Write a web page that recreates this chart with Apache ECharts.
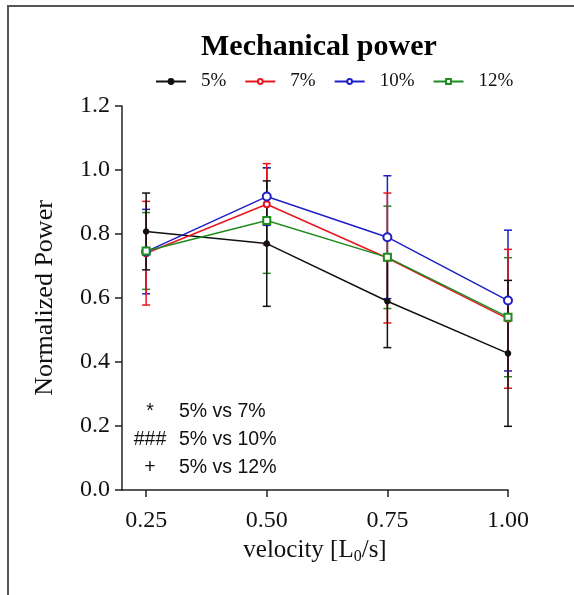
<!DOCTYPE html>
<html>
<head>
<meta charset="utf-8">
<script src="https://cdn.jsdelivr.net/npm/echarts@6/dist/echarts.min.js"></script>
<style>
  html, body { margin: 0; padding: 0; background: #fff; }
  #chart { width: 574px; height: 595px; }
</style>
</head>
<body>
<div id="chart"></div>
<script>
const velocities = [0.25, 0.5, 0.75, 1.0]
const seriesNames = ['5%', '7%', '10%', '12%']
const colors = ['#111111', '#e8161e', '#1f1fc4', '#1e8c1e']
const symbols = ['circle', 'emptyCircle', 'emptyCircle', 'emptyRect']
const symbolSizes = [5, 6, 8, 7]

// mean values per group
const mean5 = [0.808, 0.770, 0.590, 0.427]
const mean7 = [0.740, 0.893, 0.725, 0.535]
const mean10 = [0.745, 0.917, 0.790, 0.592]
const mean12 = [0.747, 0.842, 0.727, 0.540]

// error (SD) per group
const err5 = [0.120, 0.196, 0.145, 0.228]
const err7 = [0.162, 0.127, 0.203, 0.217]
const err10 = [0.132, 0.090, 0.192, 0.220]
const err12 = [0.120, 0.165, 0.160, 0.186]

const yTicks = [0, 0.2, 0.4, 0.6, 0.8, 1.0, 1.2]
const annotations = [['*', '5% vs 7%'], ['###', '5% vs 10%'], ['+', '5% vs 12%']]

const means = [mean5, mean7, mean10, mean12]
const errs = [err5, err7, err10, err12]
const serif = 'Liberation Serif'

const chart = echarts.init(document.getElementById('chart'))

// error bars, 5% drawn last so it sits on top
const errorSeries = [3, 2, 1, 0].map(i => ({
    name: seriesNames[i] + ' sd',
    type: 'custom',
    z: 2,
    silent: true,
    data: velocities.map((v, k) => [v, means[i][k] - errs[i][k], means[i][k] + errs[i][k]]),
    renderItem: (params, api) => {
        const lo = api.coord([api.value(0), api.value(1)])
        const hi = api.coord([api.value(0), api.value(2)])
        const w = 4
        const style = { stroke: colors[i], lineWidth: 1.5 }
        return {
            type: 'group',
            children: [
                { type: 'line', shape: { x1: lo[0], y1: lo[1], x2: hi[0], y2: hi[1] }, style },
                { type: 'line', shape: { x1: lo[0] - w, y1: lo[1], x2: lo[0] + w, y2: lo[1] }, style },
                { type: 'line', shape: { x1: hi[0] - w, y1: hi[1], x2: hi[0] + w, y2: hi[1] }, style }
            ]
        }
    }
}))

const lineSeries = seriesNames.map((name, i) => ({
    name,
    type: 'line',
    z: 3,
    data: velocities.map((v, k) => [v, means[i][k]]),
    symbol: symbols[i],
    symbolSize: symbolSizes[i],
    color: colors[i],
    lineStyle: { width: 1.5, color: colors[i] },
    itemStyle: { color: colors[i], borderColor: colors[i], borderWidth: 1.5 }
}))

const annoFont = '19.5px "Liberation Sans"'
const annoGraphics = []
annotations.forEach((a, idx) => {
    const y = 412 + idx * 28
    annoGraphics.push({
        type: 'text', x: 150, y,
        style: { text: a[0], font: annoFont, fill: '#111', textAlign: 'center', textVerticalAlign: 'middle' }
    })
    annoGraphics.push({
        type: 'text', x: 179, y,
        style: { text: a[1], font: annoFont, fill: '#111', textAlign: 'left', textVerticalAlign: 'middle' }
    })
})

chart.setOption({
    animation: false,
    title: {
        text: 'Mechanical power',
        left: 196,
        top: 27,
        textStyle: { fontFamily: serif, fontSize: 30, fontWeight: 'bold', color: '#000' }
    },
    legend: {
        data: seriesNames,
        left: 150,
        top: 67,
        itemWidth: 30,
        itemHeight: 6,
        itemGap: 18,
        textStyle: { fontFamily: serif, fontSize: 19, color: '#111', padding: [0, 0, 0, 10] }
    },
    grid: { left: 122, right: 66, top: 106, bottom: 105 },
    xAxis: {
        type: 'value',
        min: 0.2,
        max: 1.0,
        name: '{a|velocity [L}{s|0}{a|/s]}',
        nameLocation: 'middle',
        nameGap: 45,
        nameTextStyle: {
            rich: {
                a: { fontFamily: serif, fontSize: 25, color: '#111' },
                s: { fontFamily: serif, fontSize: 16, color: '#111', verticalAlign: 'bottom', padding: [12, 0, 0, 0] }
            }
        },
        splitLine: { show: false },
        axisLine: { lineStyle: { color: '#222', width: 1.5 } },
        axisTick: { customValues: velocities, length: 7, lineStyle: { color: '#222', width: 1.5 } },
        axisLabel: {
            customValues: velocities,
            formatter: v => v.toFixed(2),
            fontFamily: serif, fontSize: 24, color: '#111', margin: 19
        }
    },
    yAxis: {
        type: 'value',
        min: 0,
        max: 1.2,
        interval: 0.2,
        name: 'Normalized Power',
        nameLocation: 'middle',
        nameGap: 64,
        nameTextStyle: { fontFamily: serif, fontSize: 26, color: '#111' },
        splitLine: { show: false },
        axisLine: { show: true, lineStyle: { color: '#222', width: 1.5 } },
        axisTick: { show: true, length: 7, lineStyle: { color: '#222', width: 1.5 } },
        axisLabel: {
            customValues: yTicks,
            formatter: v => v.toFixed(1),
            fontFamily: serif, fontSize: 24, color: '#111', margin: 12
        }
    },
    graphic: [
        { type: 'rect', shape: { x: 8, y: 6, width: 620, height: 640 }, style: { fill: 'none', stroke: '#555', lineWidth: 2 }, silent: true },
        ...annoGraphics
    ],
    series: [...errorSeries, ...lineSeries]
})
</script>
</body>
</html>
